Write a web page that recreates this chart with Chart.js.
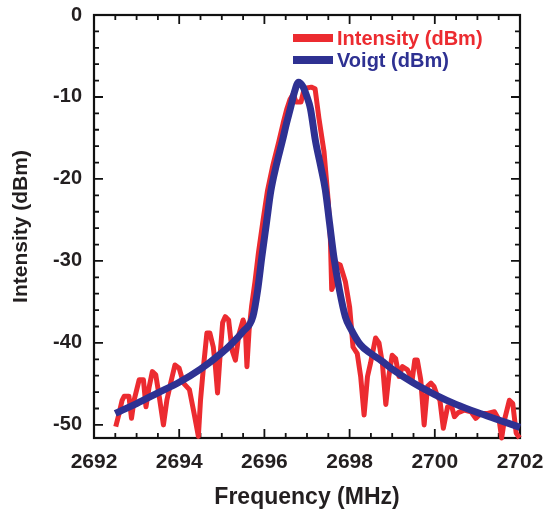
<!DOCTYPE html>
<html><head><meta charset="utf-8">
<script src="https://cdn.jsdelivr.net/npm/chart.js@4/dist/chart.umd.min.js"></script>
<style>html,body{margin:0;padding:0;background:#fff}#wrap{width:544px;height:515px}</style>
</head><body><div id="wrap"><canvas id="c" width="544" height="515"></canvas></div>
<script>
// ---- data ----
const intensityFreq = [
  2692.51,2692.59,2692.66,2692.71,2692.82,2692.88,2692.94,2693.06,2693.16,2693.22,
  2693.29,2693.37,2693.45,2693.53,2693.63,2693.71,2693.80,2693.90,2694.00,2694.10,
  2694.24,2694.35,2694.45,2694.50,2694.57,2694.65,2694.72,2694.80,2694.85,2694.90,
  2694.96,2695.02,2695.08,2695.16,2695.24,2695.32,2695.40,2695.50,2695.55,2695.59,
  2695.64,2695.70,2695.78,2695.86,2695.97,2696.07,2696.20,2696.34,2696.44,2696.53,
  2696.60,2696.68,2696.74,2696.86,2696.92,2697.00,2697.10,2697.19,2697.28,2697.40,
  2697.50,2697.55,2697.58,2697.62,2697.70,2697.78,2697.90,2698.00,2698.04,2698.08,
  2698.18,2698.26,2698.34,2698.42,2698.49,2698.61,2698.69,2698.77,2698.85,2698.92,
  2699.00,2699.08,2699.16,2699.24,2699.36,2699.47,2699.53,2699.59,2699.67,2699.75,
  2699.83,2699.91,2699.98,2700.06,2700.12,2700.20,2700.30,2700.40,2700.46,2700.55,
  2700.69,2700.85,2700.96,2701.08,2701.24,2701.40,2701.51,2701.57,2701.63,2701.75,
  2701.83,2701.91,2701.99
];
const intensityDbm = [
  -50.2,-48.6,-47.0,-46.5,-46.5,-49.2,-47.0,-44.5,-44.5,-47.8,
  -45.5,-43.5,-43.9,-46.5,-50.0,-47.0,-44.9,-42.7,-43.1,-44.9,
  -45.7,-48.6,-51.4,-47.0,-42.9,-38.8,-38.8,-40.5,-42.9,-46.1,
  -41.5,-37.5,-36.8,-37.2,-40.9,-42.1,-39.0,-37.2,-38.0,-42.9,
  -38.5,-35.5,-32.5,-29.0,-25.0,-21.5,-18.3,-15.4,-13.2,-11.4,
  -10.3,-9.6,-10.6,-10.6,-9.3,-8.9,-8.8,-9.0,-12.6,-16.7,
  -22.8,-27.5,-33.5,-33.0,-30.3,-30.5,-32.5,-35.6,-38.0,-40.5,
  -41.3,-44.1,-48.8,-44.1,-42.5,-39.4,-40.0,-42.5,-47.5,-44.1,
  -41.5,-41.9,-44.1,-42.9,-43.3,-44.5,-42.1,-42.1,-44.5,-50.0,
  -45.3,-44.9,-45.3,-46.5,-47.0,-50.4,-47.8,-47.8,-49.0,-48.5,
  -48.2,-48.4,-49.2,-48.6,-48.6,-48.4,-49.4,-51.6,-49.5,-47.0,
  -47.4,-51.0,-51.6
];
const voigtFreq = [
  2692.5,2693.0,2693.5,2694.0,2694.5,2695.0,2695.25,2695.5,2695.73,2695.84,
  2695.94,2696.05,2696.15,2696.28,2696.42,2696.52,2696.61,2696.7,2696.8,2696.9,
  2697.0,2697.08,2697.2,2697.32,2697.43,2697.53,2697.63,2697.76,2697.9,2698.02,
  2698.25,2698.5,2698.75,2699.0,2699.5,2700.0,2700.5,2701.0,2701.5,2702.0
];
const voigtDbm = [
  -48.6,-47.4,-46.1,-44.8,-43.2,-41.2,-40.0,-38.6,-36.8,-33.6,
  -29.5,-25.3,-21.5,-18.3,-15.4,-13.2,-11.4,-9.5,-8.2,-8.7,
  -10.0,-11.4,-15.4,-18.4,-21.3,-25.4,-29.5,-33.5,-36.8,-38.2,
  -40.2,-41.3,-42.2,-43.2,-44.9,-46.3,-47.5,-48.5,-49.4,-50.3
];
const xTickValues = [2692, 2694, 2696, 2698, 2700, 2702];
const yTickValues = [0, -10, -20, -30, -40, -50];
const seriesLabels = ['Intensity (dBm)', 'Voigt (dBm)'];
const xTitle = 'Frequency (MHz)';
const yTitle = 'Intensity (dBm)';

// ---- styling ----
const RED = '#ec2b30', BLUE = '#2e3192', INK = '#231f20';
const FAMILY = '"Liberation Sans", Arial, Helvetica, sans-serif';

const frameTicks = {
  id: 'frameTicks',
  beforeDatasetsDraw(chart) {
    const {ctx, chartArea: a, scales: {x, y}} = chart;
    ctx.save();
    ctx.strokeStyle = '#111';
    ctx.lineWidth = 2.2;
    ctx.strokeRect(a.left, a.top, a.right - a.left, a.bottom - a.top);
    ctx.lineWidth = 1.8;
    ctx.beginPath();
    for (let v = x.min; v <= x.max + 1e-9; v += 0.5) {
      const px = x.getPixelForValue(v);
      const major = xTickValues.some(t => Math.abs(t - v) < 1e-6);
      const L = major ? 9 : 5;
      ctx.moveTo(px, a.bottom); ctx.lineTo(px, a.bottom - L);
      ctx.moveTo(px, a.top); ctx.lineTo(px, a.top + L);
    }
    for (let v = 0; v >= y.min - 1e-9; v -= 2) {
      const py = y.getPixelForValue(v);
      const major = yTickValues.some(t => Math.abs(t - v) < 1e-6);
      const L = major ? 9 : 5;
      ctx.moveTo(a.left, py); ctx.lineTo(a.left + L, py);
      ctx.moveTo(a.right, py); ctx.lineTo(a.right - L, py);
    }
    ctx.stroke();
    ctx.restore();
  },
  afterDatasetsDraw(chart) {
    const {ctx, chartArea: a} = chart;
    ctx.save();
    ctx.font = 'bold 20px ' + FAMILY;
    ctx.textBaseline = 'middle';
    chart.data.datasets.forEach((ds, i) => {
      const yy = a.top + 23 + i * 22;
      ctx.strokeStyle = ds.borderColor;
      ctx.lineWidth = 8;
      ctx.beginPath();
      ctx.moveTo(a.left + 199, yy); ctx.lineTo(a.left + 239, yy);
      ctx.stroke();
      ctx.fillStyle = ds.borderColor;
      ctx.fillText(ds.label, a.left + 243, yy + 1);
    });
    ctx.restore();
  }
};

new Chart(document.getElementById('c'), {
  type: 'line',
  data: {
    datasets: [
      {
        label: seriesLabels[0],
        data: intensityFreq.map((f, i) => ({x: f, y: intensityDbm[i]})),
        borderColor: RED, borderWidth: 5, pointRadius: 0, tension: 0,
        borderJoinStyle: 'round', order: 1, clip: 5
      },
      {
        label: seriesLabels[1],
        data: voigtFreq.map((f, i) => ({x: f, y: voigtDbm[i]})),
        borderColor: BLUE, borderWidth: 7, pointRadius: 0,
        cubicInterpolationMode: 'monotone', borderJoinStyle: 'round', order: 0, clip: 5
      }
    ]
  },
  options: {
    responsive: false, animation: false, devicePixelRatio: 1,
    layout: {padding: {left: 0, top: 15, right: 24, bottom: 0}},
    plugins: {legend: {display: false}, tooltip: {enabled: false}},
    scales: {
      x: {
        type: 'linear', min: 2692, max: 2702,
        afterBuildTicks: s => { s.ticks = xTickValues.map(v => ({value: v})); },
        ticks: {font: {family: FAMILY, size: 21, weight: 'bold'}, color: INK, padding: 12,
                maxRotation: 0, autoSkip: false, callback: v => String(v)},
        grid: {display: false, drawTicks: false},
        border: {display: false},
        title: {display: true, text: xTitle, color: INK,
                font: {family: FAMILY, size: 23, weight: 'bold'}, padding: {top: 0, bottom: 4}},
        afterFit: s => { s.height = 77; s.paddingLeft = 0; s.paddingRight = 0; }
      },
      y: {
        type: 'linear', min: -51.6, max: 0,
        afterBuildTicks: s => { s.ticks = yTickValues.map(v => ({value: v})); },
        ticks: {font: {family: FAMILY, size: 20, weight: 'bold'}, color: INK, padding: 12,
                autoSkip: false, callback: v => String(v)},
        grid: {display: false, drawTicks: false},
        border: {display: false},
        title: {display: true, text: yTitle, color: INK,
                font: {family: FAMILY, size: 21, weight: 'bold'}, padding: {top: 9, bottom: 0}},
        afterFit: s => { s.width = 94; s.paddingTop = 0; s.paddingBottom = 0; }
      }
    }
  },
  plugins: [frameTicks]
});
</script>
</body></html>
